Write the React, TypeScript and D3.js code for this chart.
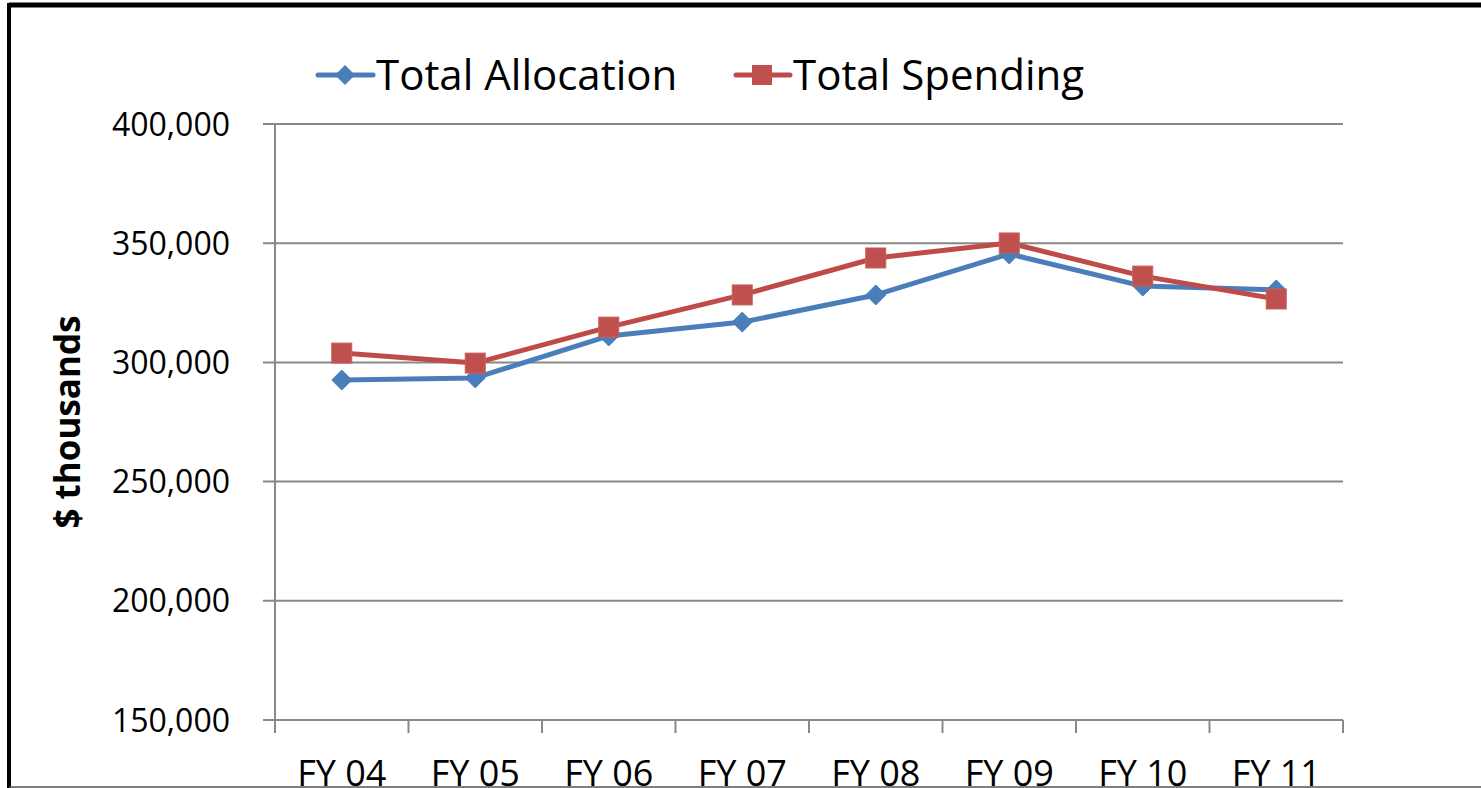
import React from "react";
import * as d3 from "d3";

const categories = ["FY 04", "FY 05", "FY 06", "FY 07", "FY 08", "FY 09", "FY 10", "FY 11"];
const allocation = [292600, 293500, 311100, 316900, 328300, 345500, 332000, 330400];
const spending = [303900, 299700, 314800, 328300, 343800, 350100, 336200, 326600];
const yTicks = [150000, 200000, 250000, 300000, 350000, 400000];

const W = 1481;
const H = 788;
const plot = { left: 275, right: 1343, top: 124, bottom: 720 };
const BLUE = "#4A7EBB";
const RED = "#BE4B48";
const GRID = "#888888";
const FONT = "'Open Sans', sans-serif";

const App = () => {
  const x = d3
    .scaleBand()
    .domain(categories)
    .range([plot.left, plot.right])
    .padding(0);
  const y = d3.scaleLinear().domain([150000, 400000]).range([plot.bottom, plot.top]);
  const fmt = d3.format(",");
  const cx = (c) => x(c) + x.bandwidth() / 2;

  const line = d3
    .line()
    .x((d, i) => cx(categories[i]))
    .y((d) => y(d));

  const diamond = (px, py, r) =>
    `M${px},${py - r}L${px + r},${py}L${px},${py + r}L${px - r},${py}Z`;

  return (
    <div style={{ position: "absolute", left: 0, top: 0 }}>
      <svg width={W} height={H} style={{ display: "block", background: "#fff" }}>
        {/* frame */}
        <line x1={9} y1={5} x2={W} y2={5} stroke="#000" strokeWidth={5} />
        <line x1={9} y1={3} x2={9} y2={H} stroke="#000" strokeWidth={4} />
        <line x1={9} y1={787} x2={W} y2={787} stroke="#555" strokeWidth={1.5} />

        {/* gridlines + y ticks */}
        {yTicks.map((t) => (
          <g key={t}>
            <line x1={plot.left - 12} x2={plot.right} y1={y(t)} y2={y(t)} stroke={GRID} strokeWidth={2} />
            <text
              x={230}
              y={y(t)}
              dy="0.36em"
              textAnchor="end"
              fontFamily={FONT}
              fontSize={32}
              fill="#000"
            >
              {fmt(t)}
            </text>
          </g>
        ))}

        {/* axes */}
        <line x1={plot.left} x2={plot.left} y1={plot.top} y2={plot.bottom + 13} stroke={GRID} strokeWidth={2} />
        {categories.map((c, i) => (
          <line
            key={"t" + i}
            x1={x(c)}
            x2={x(c)}
            y1={plot.bottom}
            y2={plot.bottom + 13}
            stroke={GRID}
            strokeWidth={2}
          />
        ))}
        <line x1={plot.right} x2={plot.right} y1={plot.bottom} y2={plot.bottom + 13} stroke={GRID} strokeWidth={2} />

        {/* x labels */}
        {categories.map((c) => (
          <text
            key={c}
            x={cx(c)}
            y={786}
            textAnchor="middle"
            fontFamily={FONT}
            fontSize={36}
            fill="#000"
          >
            {c}
          </text>
        ))}

        {/* y title */}
        <text
          transform={`translate(80,422) rotate(-90)`}
          textAnchor="middle"
          fontFamily={FONT}
          fontWeight="bold"
          fontSize={35}
          fill="#000"
        >
          $ thousands
        </text>

        {/* series */}
        <path d={line(allocation)} fill="none" stroke={BLUE} strokeWidth={5} strokeLinejoin="round" />
        {allocation.map((v, i) => (
          <path key={"a" + i} d={diamond(cx(categories[i]), y(v), 10)} fill={BLUE} stroke={BLUE} strokeWidth={1} />
        ))}
        <path d={line(spending)} fill="none" stroke={RED} strokeWidth={5} strokeLinejoin="round" />
        {spending.map((v, i) => (
          <rect
            key={"s" + i}
            x={cx(categories[i]) - 10}
            y={y(v) - 10}
            width={20}
            height={20}
            fill="#C0504D"
            stroke="#C4605D"
            strokeWidth={1}
          />
        ))}

        {/* legend */}
        <line x1={318} x2={373} y1={75} y2={75} stroke={BLUE} strokeWidth={5} strokeLinecap="round" />
        <path d={diamond(345, 75, 10)} fill={BLUE} />
        <text x={376} y={75} dy="0.36em" fontFamily={FONT} fontSize={42} fill="#000">
          Total Allocation
        </text>
        <line x1={736} x2={790} y1={75} y2={75} stroke={RED} strokeWidth={5} strokeLinecap="round" />
        <rect x={752} y={65} width={20} height={20} fill="#C0504D" />
        <text x={793} y={75} dy="0.36em" fontFamily={FONT} fontSize={42} fill="#000">
          Total Spending
        </text>
      </svg>
    </div>
  );
};

export default App;
